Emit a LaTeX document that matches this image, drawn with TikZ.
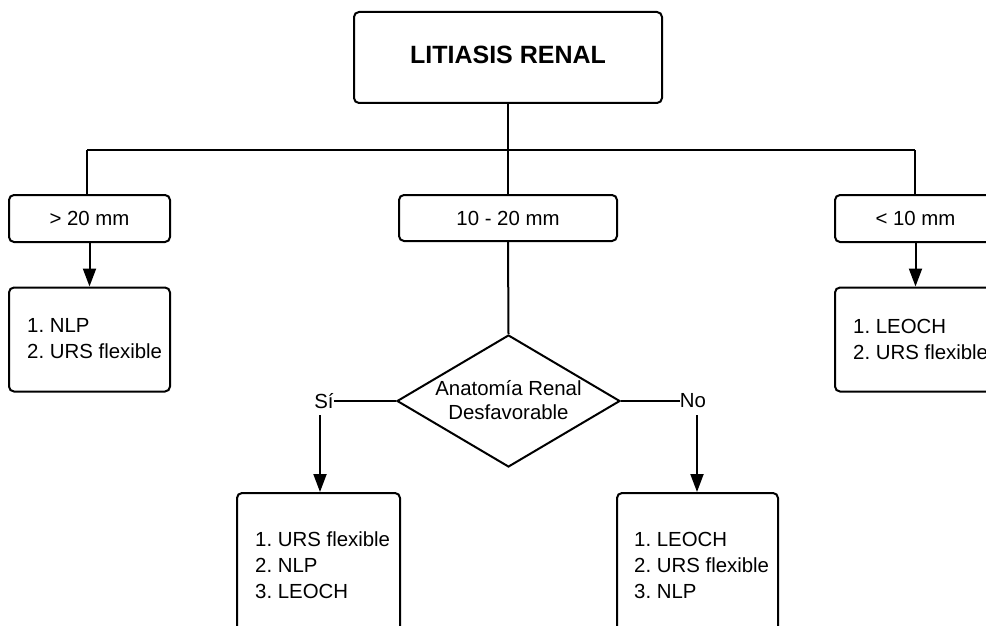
\documentclass[tikz,border=0pt]{standalone}
\usepackage{fontspec}
\setmainfont{Liberation Sans}
\usetikzlibrary{arrows.meta,shapes.geometric}
\frenchspacing
\begin{document}
\begin{tikzpicture}[x=1pt,y=-1pt,
  every node/.style={font=\fontsize{20.4}{26}\selectfont, inner sep=0pt},
  rbox/.style={draw, line width=2pt, rounded corners=5pt},
  conn/.style={line width=2pt},
  arr/.style={line width=2pt, -{Triangle[length=18pt,width=13pt]}},
  listtxt/.style={anchor=west, align=left},
]
\clip (0,0) rectangle (986,626);
\fill[white] (0,0) rectangle (986,626);
% boxes
\node[rbox, minimum width=308pt, minimum height=91pt] (top) at (508,57.5) {};
\node[font=\fontsize{25}{30}\selectfont\bfseries] (title) at (508,55) {LITIASIS RENAL};
\node[rbox, minimum width=161pt, minimum height=47pt] (gt) at (89.5,218.5) {> 20 mm};
\node[rbox, minimum width=218pt, minimum height=46pt] (mid) at (508,218) {10 - 20 mm};
\node[rbox, minimum width=161pt, minimum height=47pt] (lt) at (915.5,218.5) {< 10 mm};
\node[rbox, minimum width=161pt, minimum height=104pt] (gtl) at (89.5,339.5) {};
\node[listtxt] (gtt) at (27,339) {1. NLP\\2. URS flexible};
\node[rbox, minimum width=161pt, minimum height=104pt] (ltl) at (915.5,339.5) {};
\node[listtxt] (ltt) at (853,339) {1. LEOCH\\2. URS flexible};
\node[draw, diamond, line width=2pt, minimum width=223pt, minimum height=132pt, aspect=1.69] (dia) at (508.5,401) {};
\node[align=center, font=\fontsize{20.4}{24}\selectfont] (diat) at (508.5,400) {Anatomía Renal\\Desfavorable};
\node (si) at (324,401) {Sí};
\node (no) at (693,401) {No};
\node[rbox, minimum width=163pt, minimum height=144pt] (lb) at (318.5,565) {};
\node[listtxt] (lbt) at (255,565) {1. URS flexible\\2. NLP\\3. LEOCH};
\node[rbox, minimum width=161pt, minimum height=144pt] (rb) at (697.5,565) {};
\node[listtxt] (rbt) at (634,565) {1. LEOCH\\2. URS flexible\\3. NLP};
% connectors
\coordinate (j) at (508,150);
\coordinate (jl) at (87,150);
\coordinate (jr) at (915,150);
\draw[conn] (top.south) -- (j);
\draw[conn] (jl) -- (jr);
\draw[conn] (jl) -- (jl |- gt.north);
\draw[conn] (jr) -- (jr |- lt.north);
\draw[conn] (j) -- (mid.north);
\draw[conn] (mid.south) -- (dia.north);
\draw[arr] (gt.south) -- (gtl.north);
\draw[arr] (lt.south) -- (ltl.north);
\draw[conn] (si.east) -- (dia.west);
\draw[conn] (dia.east) -- (no.west);
\coordinate (sa) at (320,415);
\coordinate (na) at (697,415);
\draw[arr] (sa) -- (sa |- lb.north);
\draw[arr] (na) -- (na |- rb.north);
\end{tikzpicture}
\end{document}
